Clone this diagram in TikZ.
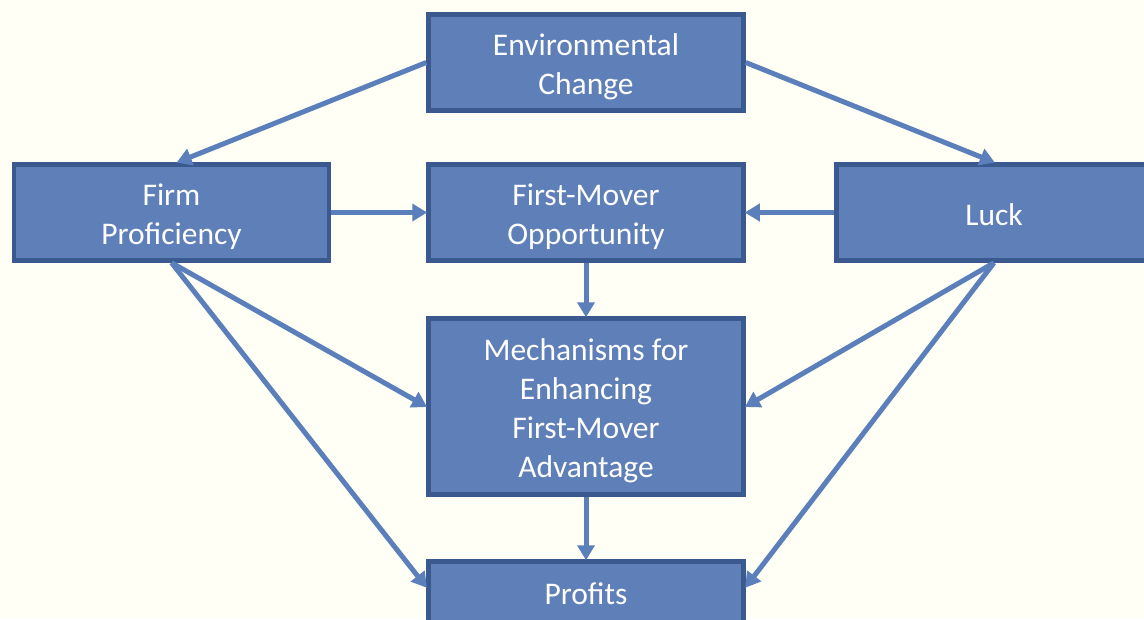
\documentclass[tikz,border=0pt]{standalone}
\usepackage{fontspec}
\setmainfont{Carlito}
\usetikzlibrary{arrows.meta,calc}
\definecolor{bg}{HTML}{FFFFF5}
\definecolor{boxfill}{HTML}{5E7FB7}
\definecolor{boxedge}{HTML}{3A5A8F}
\definecolor{arr}{HTML}{5B7FBA}
\begin{document}
\begin{tikzpicture}[x=1pt,y=-1pt,
  box/.style={draw=boxedge, fill=boxfill, line width=4.5pt, rectangle,
    minimum width=315pt, minimum height=96pt, inner sep=0pt},
  txt/.style={text=white, align=center, inner sep=0pt, font=\fontsize{31.5}{39}\selectfont},
  conn/.style={draw=arr, line width=5pt, -{Triangle[length=15pt,width=17pt]}, shorten >=-1pt}]
\fill[bg] (0,0) rectangle (1144,619);
\clip (0,0) rectangle (1144,619);
\node[box] (env) at (586,62.5) {};
\node[box] (firm) at (171.5,212.5) {};
\node[box] (fmo) at (586,212.5) {};
\node[box] (luck) at (994,212.5) {};
\node[box, minimum height=176pt] (mech) at (586,406.5) {};
\node[box, minimum height=63pt] (profits) at (586,593) {};
\node[txt] (envt) at ([yshift=-4pt]env.center) {Environmental\\Change};
\node[txt] (firmt) at ([yshift=-4pt]firm.center) {Firm\\Proficiency};
\node[txt] (fmot) at ([yshift=-4pt]fmo.center) {First-Mover\\Opportunity};
\node[txt] (luckt) at ([yshift=-2pt]luck.center) {Luck};
\node[txt] (mecht) at ([yshift=-4pt]mech.center) {Mechanisms for\\Enhancing\\First-Mover\\Advantage};
\node[txt] (profitst) at ([yshift=-1pt]profits.center) {Profits};
\draw[conn] (env.west) -- ([xshift=6pt]firm.north);
\draw[conn] (env.east) -- (luck.north);
\draw[conn] (firm.east) -- (fmo.west);
\draw[conn] (luck.west) -- (fmo.east);
\draw[conn] (fmo.south) -- (mech.north);
\draw[conn] (firm.south) -- (mech.west);
\draw[conn] (firm.south) -- ([yshift=6pt]profits.west);
\draw[conn] (luck.south) -- (mech.east);
\draw[conn] (luck.south) -- ([yshift=6pt]profits.east);
\draw[conn] (mech.south) -- (profits.north);
\end{tikzpicture}
\end{document}
